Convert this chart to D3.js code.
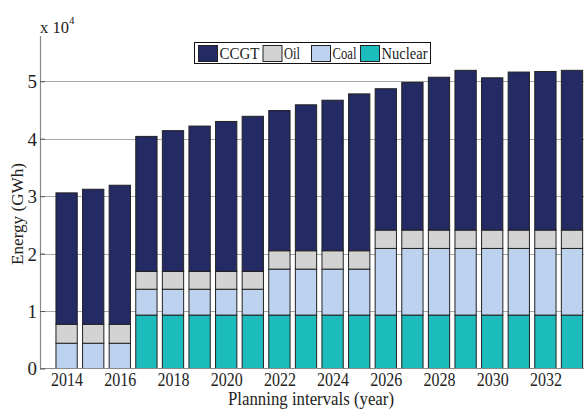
<!DOCTYPE html>
<html><head><meta charset="utf-8">
<script src="https://cdn.jsdelivr.net/npm/d3@7"></script>
<style>html,body{margin:0;padding:0;background:#fff;overflow:hidden}</style>
</head><body>
<svg id="c" width="584" height="411"></svg>
<script>
const years = [2014,2015,2016,2017,2018,2019,2020,2021,2022,2023,2024,2025,2026,2027,2028,2029,2030,2031,2032,2033];
const nuclear = [0,0,0,9300,9300,9300,9300,9300,9300,9300,9300,9300,9300,9300,9300,9300,9300,9300,9300,9300];
const coal = [4400,4400,4400,4500,4500,4500,4500,4500,8000,8000,8000,8000,11600,11600,11600,11600,11600,11600,11600,11600];
const oil = [3300,3300,3300,3100,3100,3100,3100,3100,3200,3200,3200,3200,3200,3200,3200,3200,3200,3200,3200,3200];
const ccgt = [22870,23500,24200,23500,24500,25300,26100,27000,24400,25400,26200,27300,24600,25700,26600,27800,26500,27500,27600,27800];
const seriesNames = ["Nuclear","Coal","Oil","CCGT"];
const legendOrder = ["CCGT","Oil","Coal","Nuclear"];
const colors = {CCGT:"#242a64", Oil:"#d3d3d3", Coal:"#bcd2ee", Nuclear:"#1cbcbc"};
const xTickYears = [2014,2016,2018,2020,2022,2024,2026,2028,2030,2032];
const yTicks = [0,10000,20000,30000,40000,50000];

const svg = d3.select("#c");
const FONT = "'Liberation Serif','Times New Roman',serif";
const left = 40, bottom = 368.5;
const x = d3.scaleLinear().domain([2013, 2034]).range([left, left + 21*26.6]);
const y = d3.scaleLinear().domain([0, 58000]).range([bottom, bottom - 5.8*57.45]);
const bw = 26.6*0.8;

const rows = years.map((yr,i)=>({year:yr, Nuclear:nuclear[i], Coal:coal[i], Oil:oil[i], CCGT:ccgt[i]}));
const stacked = d3.stack().keys(seriesNames)(rows);

// gridlines
svg.append("g").selectAll("line").data(yTicks.slice(1)).join("line")
  .attr("x1", left).attr("x2", 584)
  .attr("y1", d=>Math.round(y(d))+0.5).attr("y2", d=>Math.round(y(d))+0.5)
  .attr("stroke", "#a8a8a8").attr("stroke-width", 1);

// bars
svg.append("g").selectAll("g").data(stacked).join("g")
  .attr("fill", d=>colors[d.key])
  .selectAll("rect").data(d=>d.filter(s=>s[1]-s[0]>0)).join("rect")
  .attr("x", d=>x(d.data.year)-bw/2)
  .attr("y", d=>y(d[1]))
  .attr("width", bw)
  .attr("height", d=>y(d[0])-y(d[1]))
  .attr("stroke", "#222").attr("stroke-width", 1);

// axes lines
svg.append("line").attr("x1", left+0.5).attr("x2", left+0.5).attr("y1", 36).attr("y2", bottom)
  .attr("stroke", "#8a8a8a").attr("stroke-width", 1.2);
svg.append("line").attr("x1", left).attr("x2", 584).attr("y1", bottom).attr("y2", bottom)
  .attr("stroke", "#8a8a8a").attr("stroke-width", 1.2);

// y ticks
const yAxis = d3.axisLeft(y).tickValues(yTicks).tickSize(-5).tickPadding(4).tickFormat(d=>d/10000);
const ya = svg.append("g").attr("transform", `translate(${left},0)`).call(yAxis);
ya.select(".domain").remove();
ya.selectAll(".tick line").attr("stroke", "#555");
ya.selectAll(".tick text").attr("font-family", FONT).attr("font-size", 19).attr("fill", "#222")
  .attr("x", -3).attr("dy", "0.34em");

// x ticks
const xAxis = d3.axisBottom(x).tickValues(xTickYears).tickSize(0).tickPadding(5).tickFormat(d3.format("d"));
const xa = svg.append("g").attr("transform", `translate(0,${bottom})`).call(xAxis);
xa.select(".domain").remove();
xa.selectAll(".tick text").attr("font-family", FONT).attr("font-size", 18.5).attr("fill", "#222")
  .attr("textLength", 32).attr("lengthAdjust","spacingAndGlyphs").attr("y", 4.5).attr("dy","0.71em");

// axis labels
svg.append("text").attr("x", 311).attr("y", 405).attr("text-anchor", "middle")
  .attr("font-family", FONT).attr("font-size", 18.5).attr("fill", "#222")
  .attr("textLength", 166).attr("lengthAdjust","spacingAndGlyphs")
  .text("Planning intervals (year)");
svg.append("text").attr("transform", "translate(23,214) rotate(-90)").attr("text-anchor", "middle")
  .attr("font-family", FONT).attr("font-size", 17.5).attr("fill", "#222")
  .attr("textLength", 102).attr("lengthAdjust","spacingAndGlyphs")
  .text("Energy (GWh)");
const mult = svg.append("text").attr("x", 40).attr("y", 33).attr("font-family", FONT).attr("font-size", 16.5).attr("fill", "#222");
mult.append("tspan").text("x 10");
mult.append("tspan").attr("dy", -9).attr("font-size", 11).text("4");

// legend
const lg = svg.append("g");
lg.append("rect").attr("x", 194.5).attr("y", 42.5).attr("width", 236).attr("height", 21)
  .attr("fill", "#fff").attr("stroke", "#111").attr("stroke-width", 1);
const swX = {CCGT:198, Oil:262.5, Coal:311, Nuclear:360};
const lens = {CCGT:40, Oil:16, Coal:24, Nuclear:46};
legendOrder.forEach(k=>{
  lg.append("rect").attr("x", swX[k]+0.5).attr("y", 45.5).attr("width", 19).attr("height", 16)
    .attr("fill", colors[k]).attr("stroke", "#222").attr("stroke-width", 1);
  lg.append("text").attr("x", swX[k]+21.5).attr("y", 58.5).attr("font-family", FONT).attr("font-size", 17.5)
    .attr("fill", "#222").attr("textLength", lens[k]).attr("lengthAdjust","spacingAndGlyphs").text(k);
});
</script>
</body></html>
